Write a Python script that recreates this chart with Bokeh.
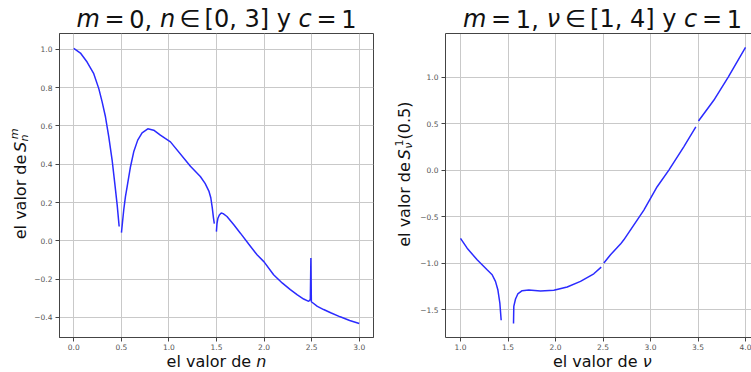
import math
from bokeh.plotting import figure
from bokeh.layouts import row, column
from bokeh.models import Label, FixedTicker, LinearAxis, Range1d
from bokeh.embed import file_html
from bokeh.resources import INLINE

# ---- left panel: S_n^m for m = 0, c = 1 (branches between jumps) ----
n_seg1 = [0.0, 0.07, 0.14, 0.21, 0.263, 0.298, 0.333, 0.368, 0.403, 0.431, 0.456, 0.477]
s_seg1 = [1.005, 0.981, 0.934, 0.873, 0.795, 0.726, 0.648, 0.543, 0.422, 0.300, 0.188, 0.075]

n_seg2 = [0.501, 0.511, 0.525, 0.543, 0.561, 0.596, 0.630, 0.672, 0.718, 0.778, 0.840,
          0.910, 1.016, 1.226, 1.330, 1.380, 1.420, 1.440, 1.455, 1.468, 1.477]
s_seg2 = [0.043, 0.092, 0.161, 0.231, 0.283, 0.387, 0.465, 0.526, 0.564, 0.585, 0.578,
          0.552, 0.517, 0.390, 0.336, 0.300, 0.260, 0.225, 0.175, 0.120, 0.090]

n_seg3 = [1.499, 1.505, 1.515, 1.530, 1.550, 1.570, 1.610, 1.680, 1.751, 1.840, 1.926,
          2.000, 2.100, 2.190, 2.276, 2.350, 2.416, 2.469, 2.486, 2.492, 2.497, 2.504,
          2.560, 2.626, 2.700, 2.800, 2.900, 3.000]
s_seg3 = [0.048, 0.090, 0.118, 0.135, 0.145, 0.142, 0.127, 0.085, 0.040, -0.018, -0.073,
          -0.110, -0.177, -0.220, -0.255, -0.282, -0.304, -0.316, -0.307, -0.090, -0.318, -0.321,
          -0.342, -0.359, -0.376, -0.397, -0.416, -0.432]

# ---- right panel: S_nu^1(0.5) for nu in [1, 4], c = 1 ----
nu_seg1 = [1.0, 1.07, 1.175, 1.28, 1.333, 1.368, 1.393, 1.414, 1.428]
v_seg1 = [-0.735, -0.84, -0.965, -1.072, -1.125, -1.197, -1.286, -1.429, -1.615]

nu_seg2 = [1.558, 1.561, 1.579, 1.603, 1.649, 1.719, 1.842, 1.982, 2.123, 2.263, 2.403, 2.481]
v_seg2 = [-1.65, -1.465, -1.386, -1.332, -1.297, -1.29, -1.30, -1.293, -1.257, -1.197, -1.115, -1.043]

nu_seg3 = [2.509, 2.579, 2.684, 2.719, 2.930, 3.070, 3.193, 3.350, 3.477]
v_seg3 = [-1.0, -0.911, -0.796, -0.75, -0.43, -0.179, 0.0, 0.25, 0.464]

nu_seg4 = [3.505, 3.666, 3.818, 4.0]
v_seg4 = [0.528, 0.75, 1.0, 1.32]

# ---- ticks ----
left_xticks = [0.0, 0.5, 1.0, 1.5, 2.0, 2.5, 3.0]
left_xlabels = ["0.0", "0.5", "1.0", "1.5", "2.0", "2.5", "3.0"]
left_yticks = [-0.4, -0.2, 0.0, 0.2, 0.4, 0.6, 0.8, 1.0]
left_ylabels = ["\u22120.4", "\u22120.2", "0.0", "0.2", "0.4", "0.6", "0.8", "1.0"]
right_xticks = [1.0, 1.5, 2.0, 2.5, 3.0, 3.5, 4.0]
right_xlabels = ["1.0", "1.5", "2.0", "2.5", "3.0", "3.5", "4.0"]
right_yticks = [-1.5, -1.0, -0.5, 0.0, 0.5, 1.0]
right_ylabels = ["\u22121.5", "\u22121.0", "\u22120.5", "0.0", "0.5", "1.0"]

FONT = "DejaVu Sans"
SPINE = "#444444"
LINE = "#2b2bff"
MID_OFF = 0.35   # height of a text box's middle above its baseline, in em

# advance widths (em) of DejaVu Sans, used to lay out mixed upright/italic labels
ADV = {" ": .318, ",": .318, ".": .318, "=": .838, "[": .390, "]": .390, "(": .390,
       ")": .390, "y": .592, "m": .974, "n": .634, "c": .550, "e": .615, "l": .278,
       "v": .592, "a": .613, "o": .612, "r": .411, "d": .635, "S": .635,
       "\u03bd": .592, "\u2208": .838}
for d in "0123456789":
    ADV[d] = .636


def adv(s):
    return sum(ADV.get(ch, .6) for ch in s)


def text_strip(w, h):
    """A bare figure whose frame fills it; its data units are pixels."""
    f = figure(width=w, height=h, output_backend="svg", toolbar_location=None,
               x_range=Range1d(0, w), y_range=Range1d(0, h),
               x_axis_location=None, y_axis_location=None,
               min_border=0, min_border_left=0, min_border_right=0,
               min_border_top=0, min_border_bottom=0)
    f.grid.visible = False
    f.outline_line_color = None
    f.background_fill_color = "white"
    f.border_fill_color = "white"
    return f


SS_GAP = 0.12   # extra advance after a stacked sub/superscript, in em
SUP_KERN = 0.15  # superscript sits further right than the subscript (slanted S)


def rich_label(p, runs, cx, base, size, vertical=False):
    """Lay out runs along a baseline centred on cx.
    runs: ("t", text, italic) | ("g", em) | ("ss", (sub, it), (sup, it))"""
    sc = 0.7
    total = 0.0
    for r in runs:
        if r[0] == "t":
            total += adv(r[1]) * size
        elif r[0] == "g":
            total += r[1] * size
        else:
            total += max(adv(r[1][0]), adv(r[2][0])) * size * sc + SS_GAP * size
    pos = -total / 2.0

    def put(text, italic, fsize, start, shift):
        along = start + adv(text) * fsize / 2.0
        up = shift + MID_OFF * fsize
        if vertical:
            x, y = base - up, cx + along
        else:
            x, y = cx + along, base + up
        p.add_layout(Label(x=x, y=y, text=text,
                           angle=math.pi / 2 if vertical else 0.0,
                           text_align="center", text_baseline="middle",
                           text_font=FONT, text_font_size=f"{fsize:.2f}px",
                           text_font_style="italic" if italic else "normal",
                           text_color="#111111"))

    for r in runs:
        if r[0] == "t":
            put(r[1].rstrip(), r[2], size, pos, 0.0)
            pos += adv(r[1]) * size
        elif r[0] == "g":
            pos += r[1] * size
        else:
            (sub, sub_it), (sup, sup_it) = r[1], r[2]
            put(sub, sub_it, size * sc, pos, -0.15 * size)
            put(sup, sup_it, size * sc, pos + SUP_KERN * size, 0.5 * size)
            pos += max(adv(sub), adv(sup)) * size * sc + SS_GAP * size


def style_axes(p, xt, xl, yt, yl):
    p.xaxis.ticker = FixedTicker(ticks=xt)
    p.yaxis.ticker = FixedTicker(ticks=yt)
    p.xaxis.major_label_overrides = dict(zip(xt, xl))
    p.yaxis.major_label_overrides = dict(zip(yt, yl))
    for ax in (p.xaxis[0], p.yaxis[0]):
        ax.axis_line_color = SPINE
        ax.major_tick_line_color = SPINE
        ax.major_tick_out = 4
        ax.major_tick_in = 0
        ax.minor_tick_line_color = None
        ax.major_label_text_color = "#555555"
        ax.major_label_text_font = FONT
        ax.major_label_text_font_size = "7.5px"
        ax.major_label_standoff = 3
    p.xaxis.major_label_standoff = 2
    p.xgrid.grid_line_color = "#c9c9c9"
    p.ygrid.grid_line_color = "#c9c9c9"
    p.background_fill_color = "white"
    p.border_fill_color = "white"


TOP, MID, BOT = 33, 319, 20

# left panel
p1 = figure(width=359, height=MID, output_backend="svg", toolbar_location=None,
            x_range=Range1d(-0.15, 3.15), y_range=Range1d(-0.505, 1.083),
            min_border_left=28, min_border_right=17, min_border_top=0, min_border_bottom=14)
style_axes(p1, left_xticks, left_xlabels, left_yticks, left_ylabels)
p1.outline_line_color = SPINE
for xs, ys in ((n_seg1, s_seg1), (n_seg2, s_seg2), (n_seg3, s_seg3)):
    p1.line(xs, ys, line_color=LINE, line_width=1.5)

# right panel (its right spine falls outside the page)
p2 = figure(width=337, height=MID, output_backend="svg", toolbar_location=None,
            x_range=Range1d(0.842, 4.063), y_range=Range1d(-1.80, 1.468),
            min_border_left=31, min_border_right=0, min_border_top=0, min_border_bottom=14)
style_axes(p2, right_xticks, right_xlabels, right_yticks, right_ylabels)
p2.outline_line_color = None
top = LinearAxis(ticker=FixedTicker(ticks=[]), axis_line_color=SPINE,
                 major_tick_line_color=None, minor_tick_line_color=None,
                 major_tick_out=0, major_tick_in=0, major_label_standoff=0,
                 major_label_text_font_size="0px")
p2.add_layout(top, "above")
for xs, ys in ((nu_seg1, v_seg1), (nu_seg2, v_seg2), (nu_seg3, v_seg3), (nu_seg4, v_seg4)):
    p2.line(xs, ys, line_color=LINE, line_width=1.5)

# titles
G = 0.195  # thin math spacing around relations
title1 = [("t", "m", True), ("g", G), ("t", "=", False), ("g", G), ("t", "0, ", False),
          ("t", "n", True), ("g", G), ("t", "\u2208", False), ("g", G),
          ("t", "[0, 3] y ", False), ("t", "c", True), ("g", G), ("t", "=", False),
          ("g", G), ("t", "1", False)]
title2 = [("t", "m", True), ("g", G), ("t", "=", False), ("g", G), ("t", "1, ", False),
          ("t", "\u03bd", True), ("g", G), ("t", "\u2208", False), ("g", G),
          ("t", "[1, 4] y ", False), ("t", "c", True), ("g", G), ("t", "=", False),
          ("g", G), ("t", "1", False)]
t1 = text_strip(390, TOP)
rich_label(t1, title1, 216, 6, 24)
t2 = text_strip(361, TOP)
rich_label(t2, title2, 212, 6, 24)

# x labels
x1 = text_strip(390, BOT)
rich_label(x1, [("t", "el valor de ", False), ("t", "n", True)], 216, 5, 16)
x2 = text_strip(361, BOT)
rich_label(x2, [("t", "el valor de ", False), ("t", "\u03bd", True)], 212, 5, 16)

# y labels (baseline x inside the strip)
y1 = text_strip(31, MID)
rich_label(y1, [("t", "el valor de ", False), ("t", "S", True), ("g", 0.06),
                ("ss", ("n", True), ("m", True))], 162, 25.5, 16, vertical=True)
y2 = text_strip(24, MID)
rich_label(y2, [("t", "el valor de ", False), ("t", "S", True), ("g", 0.06),
                ("ss", ("\u03bd", True), ("1", False)), ("g", 0.1),
                ("t", "(0.5)", False)], 172, 20, 16, vertical=True)

layout = row(column(t1, row(y1, p1), x1), column(t2, row(y2, p2), x2))
open("out.html", "w").write(file_html(layout, INLINE))
